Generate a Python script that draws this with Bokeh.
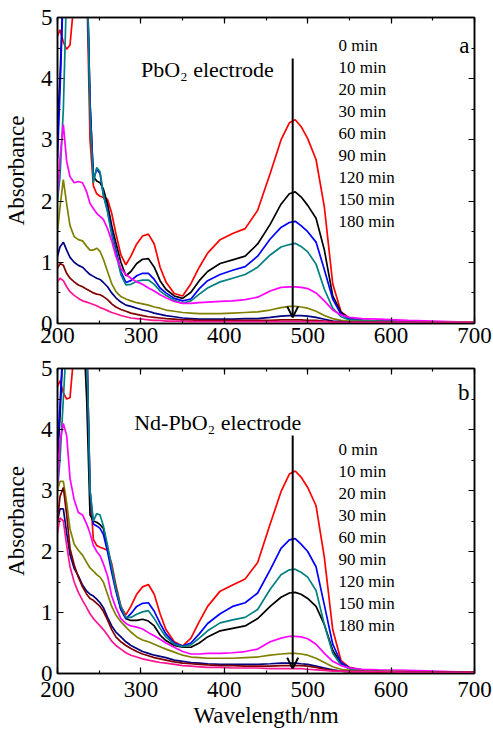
from bokeh.plotting import figure
from bokeh.models import Range1d, LinearAxis, Arrow, OpenHead, Label, SingleIntervalTicker, ColumnDataSource
from bokeh.layouts import column
from bokeh.core.properties import value
from bokeh.embed import file_html
from bokeh.resources import INLINE

FONT = "Liberation Serif"

wavelength = [200, 203, 207, 211, 215, 220, 225, 230, 235, 239,
              243, 247, 251, 255, 260, 265, 270, 276, 282, 288,
              295, 302, 309, 316, 323, 330, 340, 350, 360, 370,
              380, 395, 410, 425, 440, 455, 468, 478, 485, 492,
              500, 510, 520, 530, 540, 550, 565, 585, 620, 700]

times = ["0 min", "10 min", "20 min", "30 min", "60 min", "90 min", "120 min", "150 min", "180 min"]

# Panel a: PbO2 electrode
a_red = [4.70, 4.80, 4.60, 4.48, 4.55, 5.30, 6.00, 6.00, 5.60, 3.00,
         2.25, 2.12, 2.08, 2.06, 2.03, 1.80, 1.47, 1.12, 0.96, 1.10,
         1.30, 1.43, 1.46, 1.30, 0.92, 0.68, 0.49, 0.45, 0.65, 0.92,
         1.15, 1.37, 1.47, 1.55, 1.85, 2.45, 3.00, 3.28, 3.33, 3.22,
         3.02, 2.68, 1.90, 0.65, 0.19, 0.09, 0.05, 0.04, 0.03, 0.02]
a_black = [3.20, 4.00, 5.50, 6.00, 6.00, 6.00, 6.00, 6.00, 6.00, 3.60,
           2.40, 2.33, 2.30, 2.20, 1.95, 1.60, 1.32, 1.00, 0.78, 0.85,
           0.98, 1.05, 1.06, 0.92, 0.70, 0.56, 0.45, 0.41, 0.51, 0.70,
           0.85, 0.98, 1.04, 1.10, 1.30, 1.62, 1.95, 2.12, 2.15, 2.07,
           1.93, 1.72, 1.20, 0.45, 0.18, 0.08, 0.05, 0.04, 0.03, 0.02]
a_blue = [2.70, 3.80, 5.50, 6.00, 6.00, 6.00, 6.00, 6.00, 6.00, 3.60,
          2.35, 2.52, 2.45, 2.10, 1.85, 1.50, 1.20, 0.85, 0.67, 0.70,
          0.78, 0.82, 0.82, 0.72, 0.58, 0.50, 0.41, 0.37, 0.40, 0.57,
          0.70, 0.80, 0.87, 0.93, 1.10, 1.38, 1.57, 1.65, 1.67, 1.60,
          1.50, 1.33, 0.88, 0.40, 0.15, 0.07, 0.05, 0.04, 0.03, 0.02]
a_teal = [2.00, 2.40, 3.50, 5.50, 6.00, 6.00, 6.00, 6.00, 6.00, 3.40,
          2.30, 2.55, 2.48, 2.10, 1.82, 1.45, 1.15, 0.80, 0.63, 0.64,
          0.69, 0.71, 0.71, 0.64, 0.53, 0.46, 0.38, 0.33, 0.37, 0.48,
          0.58, 0.68, 0.74, 0.80, 0.92, 1.12, 1.25, 1.29, 1.31, 1.26,
          1.17, 0.97, 0.56, 0.25, 0.11, 0.06, 0.05, 0.04, 0.03, 0.02]
a_magenta = [2.10, 2.70, 3.25, 2.65, 2.40, 2.30, 2.32, 2.30, 2.15, 1.96,
             1.88, 1.80, 1.75, 1.70, 1.55, 1.35, 1.10, 0.90, 0.80, 0.74,
             0.68, 0.64, 0.58, 0.53, 0.47, 0.42, 0.36, 0.33, 0.33, 0.34,
             0.35, 0.36, 0.37, 0.39, 0.43, 0.53, 0.59, 0.60, 0.60, 0.59,
             0.57, 0.50, 0.37, 0.22, 0.14, 0.10, 0.08, 0.07, 0.05, 0.02]
a_olive = [1.50, 1.90, 2.35, 1.95, 1.60, 1.42, 1.37, 1.35, 1.26, 1.20,
           1.20, 1.23, 1.18, 1.05, 0.85, 0.65, 0.52, 0.44, 0.40, 0.37,
           0.34, 0.32, 0.30, 0.27, 0.25, 0.22, 0.20, 0.18, 0.17, 0.16,
           0.16, 0.16, 0.17, 0.18, 0.19, 0.22, 0.26, 0.28, 0.28, 0.27,
           0.25, 0.20, 0.13, 0.08, 0.05, 0.04, 0.03, 0.03, 0.02, 0.02]
a_navy = [1.10, 1.25, 1.33, 1.20, 1.08, 1.00, 0.95, 0.92, 0.85, 0.80,
          0.77, 0.74, 0.72, 0.67, 0.60, 0.50, 0.42, 0.35, 0.30, 0.28,
          0.25, 0.22, 0.20, 0.17, 0.15, 0.13, 0.11, 0.09, 0.08, 0.07,
          0.07, 0.07, 0.07, 0.08, 0.08, 0.10, 0.12, 0.13, 0.13, 0.13,
          0.12, 0.10, 0.07, 0.04, 0.03, 0.02, 0.02, 0.02, 0.02, 0.01]
a_brown = [0.90, 0.98, 0.95, 0.82, 0.74, 0.68, 0.63, 0.60, 0.56, 0.53,
           0.50, 0.48, 0.47, 0.44, 0.39, 0.32, 0.27, 0.23, 0.20, 0.17,
           0.15, 0.13, 0.11, 0.10, 0.09, 0.08, 0.07, 0.06, 0.06, 0.05,
           0.05, 0.05, 0.05, 0.05, 0.05, 0.05, 0.06, 0.06, 0.06, 0.06,
           0.05, 0.05, 0.04, 0.03, 0.02, 0.02, 0.02, 0.02, 0.01, 0.01]
a_pink = [0.68, 0.74, 0.70, 0.60, 0.52, 0.46, 0.41, 0.37, 0.35, 0.33,
          0.31, 0.29, 0.26, 0.24, 0.21, 0.18, 0.16, 0.13, 0.11, 0.09,
          0.08, 0.07, 0.06, 0.05, 0.05, 0.04, 0.04, 0.04, 0.03, 0.03,
          0.03, 0.03, 0.03, 0.03, 0.03, 0.03, 0.03, 0.03, 0.03, 0.03,
          0.03, 0.03, 0.03, 0.02, 0.02, 0.02, 0.02, 0.02, 0.02, 0.02]

# Panel b: Nd-PbO2 electrode
b_red = [4.70, 4.80, 4.60, 4.50, 4.52, 5.30, 6.00, 6.00, 5.50, 3.00,
         2.20, 2.10, 2.07, 2.05, 2.02, 1.80, 1.45, 1.10, 0.96, 1.10,
         1.30, 1.42, 1.46, 1.30, 0.98, 0.72, 0.52, 0.45, 0.58, 0.85,
         1.10, 1.35, 1.45, 1.55, 1.82, 2.45, 2.98, 3.27, 3.32, 3.22,
         3.05, 2.75, 1.90, 0.72, 0.21, 0.10, 0.06, 0.04, 0.03, 0.02]
b_blue = [3.70, 4.40, 5.50, 6.00, 6.00, 6.00, 6.00, 6.00, 5.50, 3.00,
          2.45, 2.42, 2.38, 2.28, 2.00, 1.66, 1.35, 1.05, 0.90, 0.98,
          1.10, 1.15, 1.16, 1.02, 0.82, 0.65, 0.50, 0.45, 0.50, 0.65,
          0.82, 0.98, 1.10, 1.16, 1.32, 1.70, 2.05, 2.19, 2.21, 2.12,
          2.00, 1.75, 1.12, 0.48, 0.18, 0.09, 0.06, 0.04, 0.03, 0.02]
b_teal = [3.00, 3.50, 4.50, 5.50, 6.00, 6.00, 6.00, 6.00, 5.50, 3.00,
          2.50, 2.62, 2.60, 2.42, 2.10, 1.75, 1.40, 1.10, 0.92, 0.92,
          0.97, 1.01, 1.03, 0.90, 0.74, 0.60, 0.48, 0.44, 0.47, 0.58,
          0.70, 0.83, 0.88, 0.92, 1.05, 1.38, 1.62, 1.70, 1.71, 1.66,
          1.58, 1.36, 0.80, 0.33, 0.14, 0.08, 0.05, 0.04, 0.03, 0.02]
b_black = [3.50, 4.20, 5.50, 6.00, 6.00, 6.00, 6.00, 6.00, 4.50, 2.60,
           2.50, 2.48, 2.44, 2.38, 2.05, 1.71, 1.40, 1.05, 0.90, 0.87,
           0.87, 0.89, 0.86, 0.78, 0.63, 0.54, 0.46, 0.43, 0.43, 0.50,
           0.60, 0.70, 0.74, 0.78, 0.90, 1.10, 1.25, 1.32, 1.33, 1.30,
           1.23, 1.10, 0.80, 0.38, 0.16, 0.08, 0.05, 0.04, 0.03, 0.02]
b_magenta = [3.10, 3.80, 4.10, 3.90, 3.20, 2.85, 2.64, 2.60, 2.45, 2.30,
             2.10, 2.00, 1.93, 1.80, 1.60, 1.27, 1.08, 0.90, 0.82, 0.78,
             0.76, 0.73, 0.67, 0.62, 0.56, 0.50, 0.43, 0.36, 0.32, 0.32,
             0.33, 0.33, 0.34, 0.36, 0.40, 0.52, 0.58, 0.61, 0.61, 0.60,
             0.57, 0.48, 0.33, 0.20, 0.13, 0.09, 0.07, 0.06, 0.05, 0.02]
b_olive = [3.00, 3.15, 3.15, 2.80, 2.37, 2.12, 2.02, 1.94, 1.82, 1.73,
           1.68, 1.62, 1.58, 1.50, 1.30, 1.10, 0.96, 0.85, 0.76, 0.68,
           0.60, 0.55, 0.52, 0.48, 0.44, 0.40, 0.35, 0.30, 0.27, 0.26,
           0.25, 0.25, 0.25, 0.26, 0.27, 0.30, 0.32, 0.33, 0.33, 0.32,
           0.30, 0.25, 0.18, 0.11, 0.07, 0.05, 0.04, 0.04, 0.03, 0.02]
b_navy = [2.50, 2.70, 2.70, 2.30, 1.95, 1.72, 1.60, 1.45, 1.35, 1.30,
          1.27, 1.22, 1.16, 1.08, 0.92, 0.78, 0.68, 0.60, 0.52, 0.46,
          0.41, 0.36, 0.33, 0.30, 0.28, 0.26, 0.22, 0.20, 0.18, 0.17,
          0.16, 0.15, 0.15, 0.15, 0.15, 0.16, 0.17, 0.17, 0.17, 0.16,
          0.15, 0.12, 0.09, 0.06, 0.04, 0.03, 0.03, 0.03, 0.02, 0.02]
b_brown = [2.50, 2.90, 3.05, 2.60, 2.05, 1.78, 1.58, 1.42, 1.30, 1.23,
           1.20, 1.15, 1.10, 1.02, 0.88, 0.72, 0.60, 0.52, 0.46, 0.41,
           0.36, 0.32, 0.29, 0.26, 0.24, 0.22, 0.19, 0.17, 0.16, 0.15,
           0.14, 0.13, 0.13, 0.12, 0.12, 0.12, 0.13, 0.13, 0.13, 0.13,
           0.12, 0.10, 0.07, 0.05, 0.04, 0.03, 0.03, 0.02, 0.02, 0.02]
b_pink = [2.30, 2.55, 2.50, 2.10, 1.75, 1.50, 1.33, 1.20, 1.08, 0.98,
          0.90, 0.84, 0.78, 0.72, 0.63, 0.53, 0.46, 0.40, 0.34, 0.30,
          0.27, 0.24, 0.22, 0.20, 0.18, 0.17, 0.15, 0.13, 0.12, 0.11,
          0.10, 0.10, 0.09, 0.09, 0.09, 0.08, 0.08, 0.08, 0.08, 0.08,
          0.07, 0.06, 0.05, 0.04, 0.04, 0.03, 0.03, 0.03, 0.02, 0.02]

colors = ["#FF0000", "#000000", "#0000FF", "#008080", "#FF00FF",
          "#808000", "#000080", "#800000", "#FF1493"]

panel_a = [a_red, a_black, a_blue, a_teal, a_magenta, a_olive, a_navy, a_brown, a_pink]
panel_b = [b_red, b_black, b_blue, b_teal, b_magenta, b_olive, b_navy, b_brown, b_pink]


def style_axis(ax, labels=True, standoff=5):
    ax.axis_line_color = "black"
    ax.axis_line_width = 1.5
    ax.major_tick_in = 6
    ax.major_tick_out = 0
    ax.minor_tick_in = 3
    ax.minor_tick_out = 0
    ax.major_tick_line_width = 1.2
    ax.minor_tick_line_width = 1.2
    ax.major_tick_line_color = "black"
    ax.minor_tick_line_color = "black"
    if labels:
        ax.major_label_text_font = FONT
        ax.major_label_text_font_size = "23px"
        ax.major_label_text_color = "black"
        ax.major_label_standoff = standoff
    else:
        ax.major_label_text_font_size = "1px"
        ax.major_label_text_color = None
        ax.major_label_standoff = 0
    ax.axis_label_text_font = FONT
    ax.axis_label_text_font_size = "23px"
    ax.axis_label_text_font_style = "normal"
    ax.axis_label_text_color = "black"


def make_panel(series, height, border_top, border_bottom, note, note_x, note_y,
               letter, letter_y, arrow_top, arrow_bottom, legend_top, xlabel, xstandoff):
    p = figure(width=493, height=height, x_range=Range1d(200, 700), y_range=Range1d(0, 5),
               output_backend="svg", toolbar_location=None,
               min_border_left=56, min_border_right=19,
               min_border_top=border_top, min_border_bottom=border_bottom)
    p.grid.visible = False
    p.outline_line_color = "black"
    p.outline_line_width = 1.5
    p.background_fill_color = "white"
    p.border_fill_color = "white"

    p.xaxis.ticker = SingleIntervalTicker(interval=100, num_minor_ticks=2)
    p.yaxis.ticker = SingleIntervalTicker(interval=1, num_minor_ticks=2)
    style_axis(p.xaxis[0], True, xstandoff)
    style_axis(p.yaxis[0], True, 5)
    p.yaxis.axis_label = "Absorbance"
    p.yaxis.axis_label_standoff = 9
    if xlabel:
        p.xaxis.axis_label = xlabel
        p.xaxis.axis_label_standoff = 3

    top_ax = LinearAxis(ticker=SingleIntervalTicker(interval=100, num_minor_ticks=2))
    style_axis(top_ax, False)
    p.add_layout(top_ax, "above")
    right_ax = LinearAxis(ticker=SingleIntervalTicker(interval=1, num_minor_ticks=2))
    style_axis(right_ax, False)
    p.add_layout(right_ax, "right")

    for ys, c in zip(series, colors):
        p.line(wavelength, ys, line_color=c, line_width=1.7)

    p.add_layout(Arrow(end=OpenHead(size=11, line_width=2, line_color="black"),
                       x_start=482, y_start=arrow_top, x_end=482, y_end=arrow_bottom,
                       line_width=2, line_color="black"))

    p.add_layout(Label(x=note_x, y=note_y, text=note, text_font=FONT, text_font_size="22px",
                       text_color="black", text_baseline="alphabetic"))
    p.add_layout(Label(x=694, y=letter_y, text=letter, text_font=FONT, text_font_size="23px",
                       text_color="black", text_align="right", text_baseline="alphabetic"))

    src = ColumnDataSource(dict(x=[537] * len(times),
                                y=[legend_top - i * 0.36 for i in range(len(times))],
                                t=times))
    p.text(x="x", y="y", text="t", source=src, text_font=value(FONT), text_font_size="17px",
           text_color="black", text_baseline="alphabetic")
    return p


p1 = make_panel(panel_a, 354, 17, 31, "PbO\u2082 electrode", 300, 4.15,
                "a", 4.54, 4.33, 0.1, 4.54, None, 4)
p2 = make_panel(panel_b, 382, 14, 63, "Nd-PbO\u2082 electrode", 292, 4.11,
                "b", 4.6, 3.9, 0.08, 3.67, "Wavelength/nm", 8)

layout = column(p1, p2, spacing=0)
open("out.html", "w").write(file_html(layout, INLINE))
